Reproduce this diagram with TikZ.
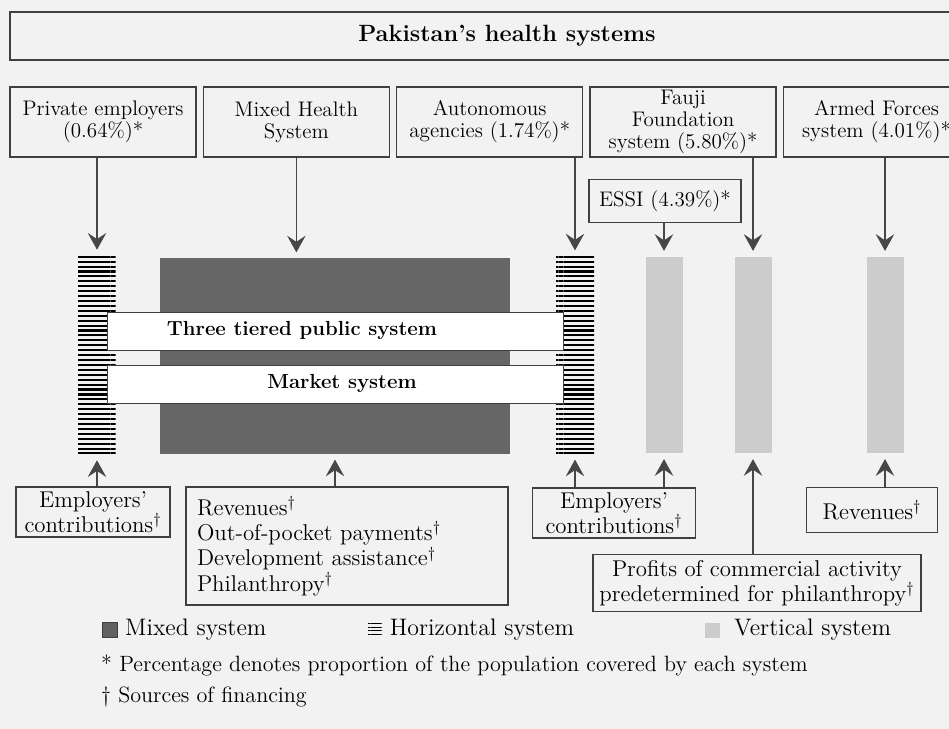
\documentclass[tikz,border=0pt]{standalone}
\usepackage{amsmath, amssymb}
\usetikzlibrary{arrows.meta, positioning, patterns.meta}

\begin{document}
\begin{tikzpicture}[x=0.02cm, y=-0.02cm,
		box/.style={draw=black!75, line width=0.8pt, align=center, inner sep=1pt},
		top/.style={box, minimum width=3.72cm, minimum height=1.4cm, font=\fontsize{12}{12.5}\selectfont},
		fund/.style={box, font=\fontsize{13}{14.4}\selectfont},
		hbar/.style={inner sep=0pt, minimum width=0.76cm, minimum height=3.96cm, pattern={Lines[distance=2.8pt, line width=1.2pt]}},
		vbar/.style={inner sep=0pt, fill=black!20, minimum width=0.74cm, minimum height=3.94cm},
		band/.style={draw=black!75, fill=white, inner sep=0pt, minimum width=9.12cm, minimum height=0.76cm},
		tag/.style={font=\fontsize{11.6}{13}\selectfont\bfseries},
		key/.style={inner sep=0pt, font=\fontsize{13.6}{15}\selectfont},
		note/.style={anchor=west, font=\fontsize{12.6}{14}\selectfont},
		flow/.style={-{Stealth[length=9.5pt, width=10.5pt, inset=3.5pt]}, color=black!72, line width=0.6pt, shorten >=3pt}]
		\path [use as bounding box, fill=black!5] (0,0) rectangle (949,729);

		\node (title) [box, minimum width=19.88cm, minimum height=0.96cm, font=\fontsize{13.4}{15}\selectfont\bfseries] at (507,36) {Pakistan's health systems};

		\node (pe) [top] at (103,122) {Private employers\\(0.64\%)*};
		\node (mh) [top, right=0.12cm of pe] {Mixed Health\\System};
		\node (aa) [top, right=0.12cm of mh] {Autonomous\\agencies (1.74\%)*};
		\node (ff) [top, right=0.12cm of aa] {Fauji\\Foundation\\system (5.80\%)*};
		\node (af) [top, right=0.12cm of ff] {Armed Forces\\system (4.01\%)*};
		\node (essi) [box, minimum width=3.04cm, minimum height=0.86cm, font=\fontsize{12}{14}\selectfont] at (665,201) {ESSI (4.39\%)*};

		\node (mix) [inner sep=0pt, fill=black!60, minimum width=7cm, minimum height=3.92cm] at (335,356) {};
		\node (hb1) [hbar] at (97,355) {};
		\node (hb2) [hbar] at (575,355) {};
		\node (vb1) [vbar] at (664,355) {};
		\node (vb2) [vbar] at (753,355) {};
		\node (vb3) [vbar] at (885,355) {};
		\node (tier) [band] at (335,331) {};
		\node (mkt) [band] at (335,384) {};
		\node (tiertxt) [tag] at (302,330) {Three tiered public system};
		\node (mkttxt) [tag] at (342,383) {Market system};

		\node (ec1) [fund, minimum width=3.08cm, minimum height=1cm] at (93,512) {Employers'\\contributions\textsuperscript{\dag}};
		\node (rev) [fund, align=left, text width=6cm, inner xsep=0.22cm, minimum height=2.36cm] at (347,546) {Revenues\textsuperscript{\dag}\\Out-of-pocket payments\textsuperscript{\dag}\\Development assistance\textsuperscript{\dag}\\Philanthropy\textsuperscript{\dag}};
		\node (ec2) [fund, minimum width=3.26cm, minimum height=1cm] at (614,513) {Employers'\\contributions\textsuperscript{\dag}};
		\node (rev2) [fund, minimum width=2.62cm, minimum height=0.9cm] at (872,510) {Revenues\textsuperscript{\dag}};
		\node (prof) [fund, minimum width=6.56cm, minimum height=1.14cm] at (757,583) {Profits of commercial activity\\predetermined for philanthropy\textsuperscript{\dag}};

		\path [flow]
		(pe.south -| hb1) edge (hb1)
		(mh) edge (mh |- mix.north)
		(aa.south -| hb2) edge (hb2)
		(essi.south -| vb1) edge (vb1)
		(ff.south -| vb2) edge (vb2)
		(af.south -| vb3) edge (vb3)
		(ec1.north -| hb1) edge (hb1)
		(rev.north -| mix) edge (mix)
		(ec2.north -| hb2) edge (hb2)
		(ec2.north -| vb1) edge (vb1)
		(rev2.north -| vb3) edge (vb3)
		(prof.north -| vb2) edge (vb2)
		;

		\node (lmix) [fill=black!62, draw=black!75, inner sep=0pt, minimum size=0.3cm] at (110,630) {};
		\node (tmix) [key, right=0.14cm of lmix] {Mixed system};
		\node (lhor) [inner sep=0pt, minimum width=0.28cm, minimum height=0.26cm, pattern={Lines[distance=2pt, line width=0.6pt]}] at (375,630) {};
		\node (thor) [key, right=0.14cm of lhor] {Horizontal system};
		\node (lver) [fill=black!20, inner sep=0pt, minimum size=0.3cm] at (712,630) {};
		\node (tver) [key, right=0.28cm of lver] {Vertical system};
		\node (n1) [note] at (95,665) {* Percentage denotes proportion of the population covered by each system};
		\node (n2) [note] at (95,697) {\dag{} Sources of financing};
	\end{tikzpicture}
\end{document}
